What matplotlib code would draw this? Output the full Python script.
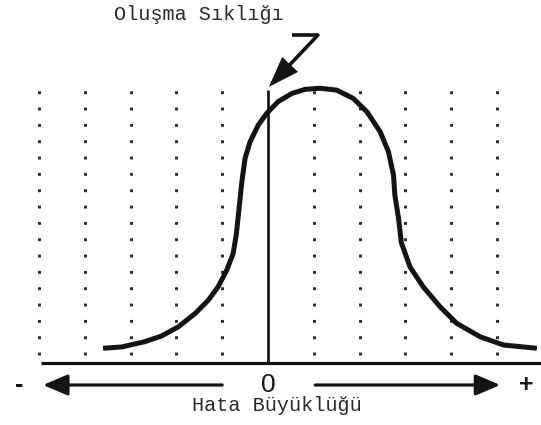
import matplotlib
matplotlib.use("Agg")
import matplotlib.pyplot as plt
from matplotlib.patches import FancyArrowPatch

# ---- data ----
curve_x = [-3.60, -3.19, -2.69, -2.32, -1.96, -1.59, -1.30, -1.09, -0.90, -0.76,
           -0.69, -0.63, -0.57, -0.50, -0.39, -0.21, -0.03, 0.22, 0.52, 0.81,
           1.14, 1.50, 1.86, 2.16, 2.45, 2.63, 2.74, 2.77, 2.85, 2.91,
           3.10, 3.39, 3.76, 4.12, 4.63, 5.14, 5.87]
curve_y = [0.54, 0.59, 0.78, 0.99, 1.32, 1.81, 2.30, 2.78, 3.39, 4.00,
           4.71, 5.66, 6.62, 7.47, 8.08, 8.69, 9.11, 9.54, 9.84, 9.99,
           10.03, 9.96, 9.66, 9.17, 8.44, 7.71, 6.86, 6.13, 5.28, 4.40,
           3.51, 2.78, 2.05, 1.45, 0.96, 0.66, 0.54]
grid_x = [-5, -4, -3, -2, -1, 1, 2, 3, 4, 5]

title_text = "Oluşma Sıklığı"
xlabel_text = "Hata Büyüklüğü"
zero_label = "0"
minus_label = "-"
plus_label = "+"

# ---- figure ----
fig = plt.figure(figsize=(5.41, 4.25), dpi=100)
ax = fig.add_axes([0, 0, 1, 1])
ax.set_xlim(-5.85, 5.96)
ax.set_ylim(-2.26, 13.25)
ax.axis("off")

# dotted vertical grid
ax.vlines(grid_x, 0.29, 10.05, colors="#2a2a2a", linewidth=2.1,
          linestyles=(0, (1, 4.6)), zorder=1)

# baseline and zero line
ax.hlines(0, -4.96, 5.96, colors="#111111", linewidth=2.3, zorder=2)
ax.vlines(0, 0, 9.96, colors="#111111", linewidth=1.9, zorder=2)

# curve
ax.plot(curve_x, curve_y, color="#141414", linewidth=3.6,
        solid_capstyle="butt", solid_joinstyle="round", zorder=3)

# "7" shaped pointer
ax.plot([0.52, 1.09], [11.97, 11.97], color="#141414", linewidth=2.6,
        solid_capstyle="butt", zorder=3)
ax.add_patch(FancyArrowPatch((1.09, 11.97), (0.02, 10.08),
                             arrowstyle="-|>,head_length=0.85,head_width=0.3",
                             mutation_scale=20, color="#141414", linewidth=2.6,
                             shrinkA=0, shrinkB=0, joinstyle="miter", zorder=4))

# bottom arrows
ax.add_patch(FancyArrowPatch((-1.00, -0.80), (-4.91, -0.80),
                             arrowstyle="-|>,head_length=0.75,head_width=0.32",
                             mutation_scale=20, color="#141414", linewidth=2.3,
                             shrinkA=0, shrinkB=0, zorder=4))
ax.add_patch(FancyArrowPatch((1.03, -0.80), (5.07, -0.80),
                             arrowstyle="-|>,head_length=0.75,head_width=0.32",
                             mutation_scale=20, color="#141414", linewidth=2.3,
                             shrinkA=0, shrinkB=0, zorder=4))

# texts
ax.text(0, -0.80, zero_label, ha="center", va="center", fontsize=19,
        family="Liberation Sans", color="#1a1a1a")
ax.text(-5.44, -0.80, minus_label, ha="center", va="center", fontsize=18,
        family="Liberation Sans", fontweight="bold", color="#1a1a1a")
ax.text(5.63, -0.80, plus_label, ha="center", va="center", fontsize=18,
        family="Liberation Sans", fontweight="bold", color="#1a1a1a")
ax.text(0.20, -1.55, xlabel_text, ha="center", va="center", fontsize=14.5,
        family="Liberation Mono", color="#2a2a2a")
ax.text(-1.50, 12.72, title_text, ha="center", va="center", fontsize=14.5,
        family="Liberation Mono", color="#2a2a2a")

fig.savefig("out.png", dpi=100)
